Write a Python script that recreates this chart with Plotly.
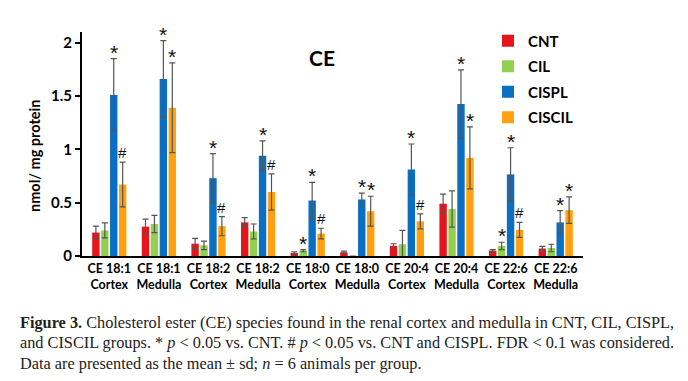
import plotly.graph_objects as go

categories = ["CE 18:1<br>Cortex", "CE 18:1<br>Medulla", "CE 18:2<br>Cortex", "CE 18:2<br>Medulla",
              "CE 18:0<br>Cortex", "CE 18:0<br>Medulla", "CE 20:4<br>Cortex", "CE 20:4<br>Medulla",
              "CE 22:6<br>Cortex", "CE 22:6<br>Medulla"]
groups = ["CNT", "CIL", "CISPL", "CISCIL"]
colors = ["#E8141C", "#92D050", "#0A6FC2", "#FFA010"]

cnt_mean = [0.22, 0.275, 0.115, 0.315, 0.03, 0.035, 0.095, 0.49, 0.05, 0.07]
cnt_sd = [0.06, 0.07, 0.05, 0.045, 0.01, 0.01, 0.02, 0.09, 0.01, 0.02]
cil_mean = [0.24, 0.30, 0.10, 0.23, 0.05, 0.0, 0.11, 0.44, 0.094, 0.075]
cil_sd = [0.07, 0.08, 0.04, 0.07, 0.01, 0.0, 0.13, 0.17, 0.035, 0.035]
cispl_mean = [1.51, 1.66, 0.73, 0.94, 0.52, 0.53, 0.81, 1.425, 0.765, 0.315]
cispl_sd = [0.34, 0.36, 0.23, 0.14, 0.17, 0.06, 0.24, 0.32, 0.25, 0.11]
ciscil_mean = [0.67, 1.39, 0.28, 0.60, 0.21, 0.42, 0.325, 0.92, 0.245, 0.43]
ciscil_sd = [0.21, 0.42, 0.09, 0.17, 0.05, 0.14, 0.07, 0.29, 0.07, 0.125]

cil_marks = ["", "", "", "", "*", "", "", "", "*", ""]
cispl_marks = ["*"] * 10
ciscil_marks = ["#", "*", "#", "#", "#", "*", "#", "*", "#", "*"]

means = [cnt_mean, cil_mean, cispl_mean, ciscil_mean]
sds = [cnt_sd, cil_sd, cispl_sd, ciscil_sd]
marks = [[""] * 10, cil_marks, cispl_marks, ciscil_marks]

x = list(range(len(categories)))
bargap = 0.28
n = len(groups)
slot = (1 - bargap) / n

fig = go.Figure()
for g in range(n):
    fig.add_trace(go.Bar(
        x=x, y=means[g], name="<b>" + groups[g] + "</b>", legendgroup=groups[g],
        marker_color=colors[g], marker_line_width=0,
        error_y=dict(type="data", array=sds[g], visible=True, color="#555555", thickness=1.2, width=3),
    ))

annotations = []
for g in range(n):
    off = -(1 - bargap) / 2 + slot * (g + 0.5)
    for i in x:
        m = marks[g][i]
        if m:
            annotations.append(dict(
                x=i + off, y=means[g][i] + sds[g][i], xref="x", yref="y", text=m,
                showarrow=False, yanchor="bottom", yshift=-7 if m == "*" else -1,
                font=dict(family="Liberation Sans", size=21 if m == "*" else 15, color="#111111")))

W, H = 688, 381
L, R, T, B = 82, 105, 32, 125
pw, ph = W - L - R, H - T - B

def px(xp):
    return (xp - L) / pw

def py(yp):
    return (H - B - yp) / ph

annotations.append(dict(x=px(322), y=py(57), xref="paper", yref="paper", text="<b>CE</b>",
                        showarrow=False, xanchor="center", yanchor="middle",
                        font=dict(family="Lato", size=21, color="black")))
annotations.append(dict(x=px(34), y=py(156), xref="paper", yref="paper", text="<b>nmol/ mg protein</b>",
                        showarrow=False, xanchor="center", yanchor="middle", textangle=-90,
                        font=dict(family="Lato", size=14.5, color="black")))

caption = [
    "<b>Figure 3.</b> Cholesterol ester (CE) species found in the renal cortex and medulla in CNT, CIL, CISPL,",
    "and CISCIL groups. * <i>p</i> < 0.05 vs. CNT. # <i>p</i> < 0.05 vs. CNT and CISPL. FDR < 0.1 was considered.",
    "Data are presented as the mean ± sd; <i>n</i> = 6 animals per group.",
]
for k, line in enumerate(caption):
    annotations.append(dict(x=px(18), y=py(322 + 20.5 * k), xref="paper", yref="paper", text=line,
                            showarrow=False, xanchor="left", yanchor="middle",
                            font=dict(family="Liberation Serif", size=16.3, color="#222222")))

fig.update_layout(
    width=W, height=H, margin=dict(l=L, r=R, t=T, b=B, pad=0, autoexpand=False),
    paper_bgcolor="white", plot_bgcolor="white",
    barmode="group", bargap=bargap, bargroupgap=0.17,
    showlegend=True,
    legend=dict(x=px(488), y=py(24.5), xanchor="left", yanchor="top",
                font=dict(family="Lato", size=15, color="black"), itemwidth=30,
                tracegroupgap=3, bgcolor="rgba(0,0,0,0)", itemsizing="constant"),
    annotations=annotations,
    font=dict(family="Lato", color="black"),
)
fig.update_xaxes(range=[-0.55, 9.55], tickvals=x,
                 ticktext=["<b>" + c.replace("<br>", "</b><br><b>") + "</b>" for c in categories],
                 showline=True, linecolor="black", linewidth=2, ticks="", showgrid=False, automargin=False,
                 tickfont=dict(family="Lato", size=12.5, color="black"), zeroline=False)
fig.update_yaxes(range=[0, 2.1], tickvals=[0, 0.5, 1, 1.5, 2],
                 ticktext=["<b>0</b>", "<b>0.5</b>", "<b>1</b>", "<b>1.5</b>", "<b>2</b>"],
                 showline=True, linecolor="black", linewidth=2, ticks="outside", ticklen=5, tickwidth=1.5,
                 tickcolor="black", showgrid=False, zeroline=False, automargin=False,
                 tickfont=dict(family="Lato", size=15, color="black"))

fig.write_html("out.html", config={"displayModeBar": False},
               post_script="document.body.style.margin='0';")
